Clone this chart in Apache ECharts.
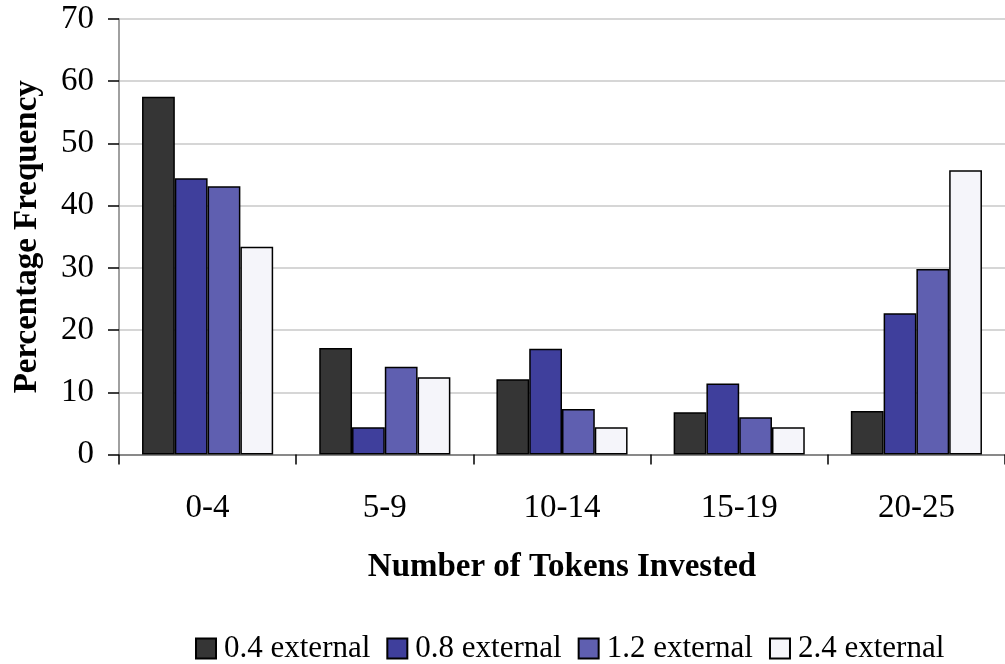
<!DOCTYPE html>
<html>
<head>
<meta charset="utf-8">
<script src="https://cdn.jsdelivr.net/npm/echarts@6/dist/echarts.min.js"></script>
<style>
  html, body { margin: 0; padding: 0; background: #ffffff; }
  #chart { width: 1005px; height: 664px; }
</style>
</head>
<body>
<div id="chart"></div>
<script>
// Token-investment bins on the category axis
const categories = ['0-4', '5-9', '10-14', '15-19', '20-25'];

// Percentage frequency per bin for each external-return condition
const ext04 = [57.5, 17.1, 12.1, 6.8, 7.0];
const ext08 = [44.4, 4.4, 17.0, 11.4, 22.7];
const ext12 = [43.1, 14.1, 7.3, 6.0, 29.8];
const ext24 = [33.4, 12.4, 4.4, 4.4, 45.7];

const seriesNames = ['0.4 external', '0.8 external', '1.2 external', '2.4 external'];
const seriesData = [ext04, ext08, ext12, ext24];
const seriesColors = ['#353535', '#3f3f9c', '#5f5fb0', '#f5f5fa'];

const serif = '"Liberation Serif", "Times New Roman", serif';

const chart = echarts.init(document.getElementById('chart'), null, { renderer: 'canvas' });

chart.setOption({
  backgroundColor: '#ffffff',
  animation: false,
  textStyle: { fontFamily: serif, color: '#000' },
  grid: { left: 119, top: 19, width: 891, height: 435.5, containLabel: false },
  legend: {
    top: 628,
    left: 190,
    itemWidth: 20,
    itemHeight: 20,
    itemGap: 16,
    icon: 'rect',
    textStyle: { fontFamily: serif, fontSize: 31, color: '#000', padding: [0, 0, 0, 3] },
    data: seriesNames
  },
  xAxis: {
    type: 'category',
    data: categories,
    name: 'Number of Tokens Invested',
    nameLocation: 'middle',
    nameGap: 96,
    nameTextStyle: { fontFamily: serif, fontSize: 33, fontWeight: 'bold', color: '#000' },
    axisLine: { lineStyle: { color: '#707070', width: 1.5 } },
    axisTick: { show: true, length: 10, lineStyle: { color: '#000', width: 1.5 } },
    axisLabel: { fontFamily: serif, fontSize: 33, color: '#000', margin: 37 },
    splitLine: { show: false }
  },
  yAxis: {
    type: 'value',
    min: 0,
    max: 70,
    interval: 10,
    name: 'Percentage Frequency',
    nameLocation: 'middle',
    nameGap: 75,
    nameRotate: 90,
    nameTextStyle: { fontFamily: serif, fontSize: 33, fontWeight: 'bold', color: '#000' },
    axisLine: { show: true, lineStyle: { color: '#808080', width: 1.5 } },
    axisTick: { show: true, length: 11, lineStyle: { color: '#000', width: 1.5 } },
    axisLabel: { fontFamily: serif, fontSize: 33, color: '#000', margin: 25 },
    splitLine: { show: true, lineStyle: { color: '#c8c8c8', width: 1.5 } }
  },
  series: seriesNames.map((name, i) => ({
    name: name,
    type: 'bar',
    data: seriesData[i],
    barGap: '0%',
    barCategoryGap: '26%',
    itemStyle: { color: seriesColors[i], borderColor: '#000', borderWidth: 1.5 }
  }))
});
</script>
</body>
</html>
